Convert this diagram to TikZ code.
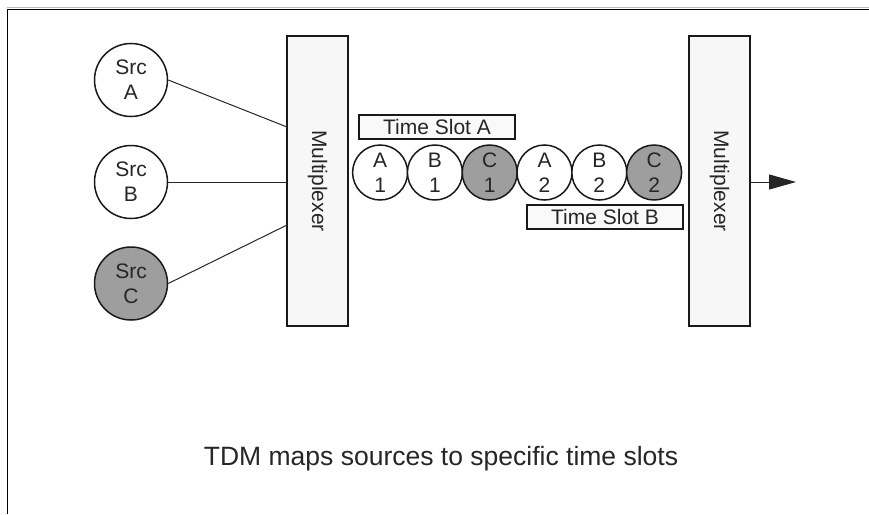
\documentclass[tikz,border=0pt]{standalone}
\usepackage{fontspec}
\setmainfont{Liberation Sans}
\usetikzlibrary{arrows.meta}

\tikzset{
  lbl/.style={text=black!85, font=\fontsize{21}{25}\selectfont, align=center},
  src/.style={circle, draw=black!90, line width=1.5pt, minimum size=73pt, inner sep=0pt, fill=white, lbl},
  slot/.style={circle, draw=black!90, line width=1.5pt, minimum size=55pt, inner sep=0pt, fill=white, lbl},
  shaded/.style={fill=black!38},
  muxbox/.style={rectangle, draw=black!90, line width=1.3pt, minimum width=61pt, minimum height=290pt, inner sep=0pt, fill=gray!6},
  slotbox/.style={rectangle, draw=black!90, line width=1.2pt, minimum width=156pt, minimum height=24pt, inner sep=0pt, fill=gray!5, lbl},
  link/.style={draw=black!85, line width=1pt}
}

\begin{document}
\begin{tikzpicture}[x=1pt, y=-1pt]
  \useasboundingbox (0,0) rectangle (869,514);

  % outer frame (top and left edges)
  \draw[gray!55, line width=1.3pt] (7,7.2) -- (869,7.2);
  \draw[black, line width=1.6pt] (7.3,9.3) -- (869,9.3);
  \draw[black, line width=1.6pt] (7.3,8.5) -- (7.3,514);

  % sources
  \node[src] (srcA) at (131,80) {Src\\A};
  \node[src] (srcB) at (131,182) {Src\\B};
  \node[src, shaded] (srcC) at (131,283.5) {Src\\C};

  % multiplexers
  \node[muxbox] (muxL) at (317.5,181) {};
  \node[lbl, rotate=-90] at (muxL.center) {Multiplexer};
  \node[muxbox] (muxR) at (719.5,181) {};
  \node[lbl, rotate=-90] at (muxR.center) {Multiplexer};

  % inputs into the left multiplexer
  \coordinate (inA) at (287,127);
  \coordinate (inB) at (287,182);
  \coordinate (inC) at (287,225);
  \draw[link] (srcA.east) -- (inA);
  \draw[link] (srcB.east) -- (inB);
  \draw[link] (srcC.east) -- (inC);

  % time slot frames
  \node[slot] (a1) at (380.1,172.5) {A\\1};
  \node[slot] (b1) at (434.9,172.5) {B\\1};
  \node[slot, shaded] (c1) at (489.7,172.5) {C\\1};
  \node[slot] (a2) at (544.5,172.5) {A\\2};
  \node[slot] (b2) at (599.3,172.5) {B\\2};
  \node[slot, shaded] (c2) at (654.1,172.5) {C\\2};

  % slot labels
  \node[slotbox] (tsA) at (437,127) {Time Slot A};
  \node[slotbox] (tsB) at (605,217) {Time Slot B};

  % output
  \coordinate (out) at (796,182);
  \draw[link, -{Triangle[length=27pt, width=15pt]}] (muxR.east |- out) -- (out);

  % caption
  \node[text=black!85, font=\fontsize{26.5}{30}\selectfont] (cap) at (441,459) {TDM maps sources to specific time slots};
\end{tikzpicture}
\end{document}
